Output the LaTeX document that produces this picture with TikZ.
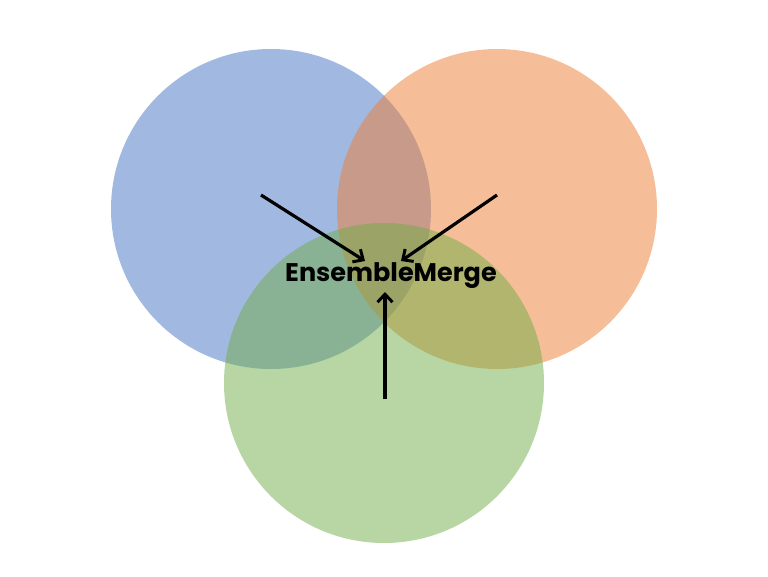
\documentclass[tikz,border=0pt]{standalone}
\usepackage{fontspec}
\setmainfont{Poppins}
\usetikzlibrary{arrows.meta}
\definecolor{cblue}{HTML}{4472C4}
\definecolor{corange}{HTML}{ED7D31}
\definecolor{cgreen}{HTML}{70AD47}
\tikzset{
  venn/.style={circle, minimum size=320pt, inner sep=0pt, fill opacity=0.5, draw=none},
  arr/.style={line width=3.2pt, -{Straight Barb[length=8pt,width=15pt,line width=3pt]}},
}
\begin{document}
\begin{tikzpicture}[x=1pt,y=-1pt]
\useasboundingbox (0,0) rectangle (768,576);
\node[venn, fill=cblue] (blue) at (271,209) {};
\node[venn, fill=corange] (orange) at (497,209) {};
\node[venn, fill=cgreen] (green) at (384,383) {};
\node[font=\bfseries\fontsize{25.5}{30}\selectfont] (title) at (391,276) {EnsembleMerge};
\coordinate (s1) at (261,195);
\coordinate (e1) at (365,261);
\coordinate (s2) at (497,195);
\coordinate (e2) at (401,261);
\coordinate (s3) at (385,399);
\coordinate (e3) at (385,292);
\draw[arr] (s1) -- (e1);
\draw[arr] (s2) -- (e2);
\draw[arr] (s3) -- (e3);
\end{tikzpicture}
\end{document}
